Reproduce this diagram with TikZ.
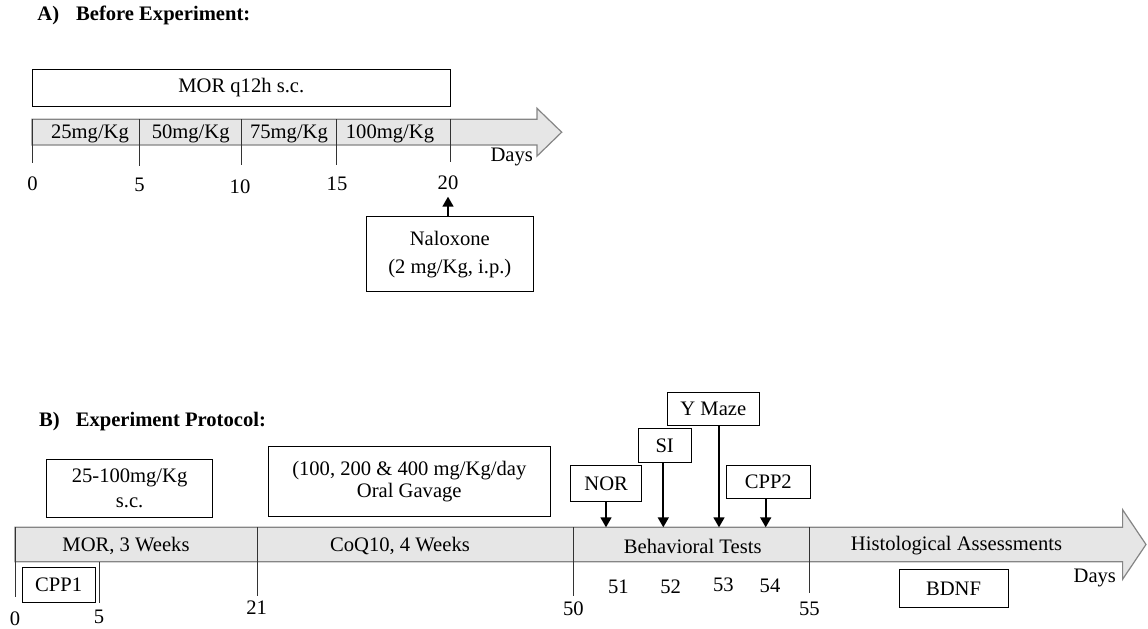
\documentclass[tikz,border=0pt]{standalone}
\usepackage{fontspec}
\setmainfont{Liberation Serif}
\usepackage{tikz}
\usetikzlibrary{arrows.meta}
\definecolor{bandc}{HTML}{E6E6E6}
\definecolor{edgec}{HTML}{858585}
\definecolor{tickc}{HTML}{333333}
\tikzset{
  band/.style={fill=bandc, draw=edgec, line width=0.6pt, line join=miter},
  daytick/.style={draw=tickc, line width=0.45pt},
  txt/.style={inner sep=0pt, font=\fontsize{10.3}{12}\selectfont},
  hdr/.style={inner sep=0pt, anchor=west, font=\fontsize{10.3}{12}\selectfont\bfseries},
  dosebox/.style={txt, draw, line width=0.45pt, align=center},
  testarrow/.style={line width=0.85pt, -{Triangle[length=5pt,width=5.5pt]}},
}

\begin{document}
\begin{tikzpicture}[x=0.5pt,y=-0.5pt]
\useasboundingbox (0,0) rectangle (1148,628);
\node[hdr] (titleA) at (37.000,15.000) {A)\hspace{8.5pt}Before Experiment:};
\node[dosebox, minimum width=209.3pt, minimum height=18.7pt] (mor) at (241.300,88.000) {MOR q12h s.c.};
\filldraw[band] (32.000,119.300) -- (537.000,119.300) -- (537.000,108.300) -- (561.700,132.200) -- (537.000,156.100) -- (537.000,145.000) -- (32.000,145.000) -- cycle;
\draw[daytick] (32.000,119.300) -- (32.000,163.000);
\draw[daytick] (139.600,119.300) -- (139.600,166.000);
\draw[daytick] (241.500,119.300) -- (241.500,165.000);
\draw[daytick] (336.000,119.300) -- (336.000,165.000);
\draw[daytick] (450.000,119.300) -- (450.000,161.700);
\node[txt] (dose25) at (90.000,133.500) {25mg/Kg};
\node[txt] (dose50) at (190.700,133.500) {50mg/Kg};
\node[txt] (dose75) at (289.000,133.500) {75mg/Kg};
\node[txt] (dose100) at (390.000,133.500) {100mg/Kg};
\node[txt] (a0) at (32.600,184.000) {0};
\node[txt] (a5) at (139.600,185.000) {5};
\node[txt] (a10) at (240.000,186.700) {10};
\node[txt] (a15) at (337.000,184.000) {15};
\node[txt] (a20) at (448.000,182.700) {20};
\node[txt] (daysA) at (511.700,156.700) {Days};
\node[dosebox, minimum width=83.2pt, minimum height=37.5pt, font=\fontsize{10.3}{14}\selectfont] (nal) at (449.800,254.200) {Naloxone\\(2 mg/Kg, i.p.)};
\coordinate (nalend) at (448.000,196.700);
\draw[testarrow] (nalend |- nal.north) -- (nalend);
\node[hdr] (titleB) at (38.800,421.700) {B)\hspace{8pt}Experiment Protocol:};
\node[dosebox, minimum width=83.3pt, minimum height=29.2pt, font=\fontsize{10.3}{12.9}\selectfont] (morsc) at (129.600,488.200) {25-100mg/Kg\\s.c.};
\node[dosebox, minimum width=140.7pt, minimum height=35.3pt, font=\fontsize{10.3}{11.2}\selectfont] (coq) at (409.300,481.300) {(100, 200 \& 400 mg/Kg/day\\Oral Gavage};
\node[dosebox, minimum width=35.5pt, minimum height=18.3pt] (nor) at (606.200,483.300) {NOR};
\node[dosebox, minimum width=26.4pt, minimum height=17.0pt] (si) at (664.700,445.300) {SI};
\node[dosebox, minimum width=46.0pt, minimum height=16.7pt] (ymaze) at (713.300,409.000) {Y Maze};
\node[dosebox, minimum width=41.7pt, minimum height=16.7pt] (cpp2) at (768.300,481.700) {CPP2};
\filldraw[band] (15.000,527.300) -- (1122.600,527.300) -- (1122.600,509.700) -- (1146.000,544.500) -- (1122.600,579.300) -- (1122.600,561.700) -- (15.000,561.700) -- cycle;
\coordinate (t51) at (606.000,527.300);
\coordinate (t52) at (663.300,527.300);
\coordinate (t53) at (719.000,527.300);
\coordinate (t54) at (765.700,527.300);
\draw[testarrow] (t51 |- nor.south) -- (t51);
\draw[testarrow] (t52 |- si.south) -- (t52);
\draw[testarrow] (t53 |- ymaze.south) -- (t53);
\draw[testarrow] (t54 |- cpp2.south) -- (t54);
\draw[daytick] (15.000,527.300) -- (15.000,596.700);
\draw[daytick] (99.000,561.700) -- (99.000,602.700);
\draw[daytick] (257.300,527.300) -- (257.300,596.000);
\draw[daytick] (573.300,527.300) -- (573.300,596.000);
\draw[daytick] (809.300,527.300) -- (809.300,593.300);
\node[txt] (phmor) at (126.000,545.500) {MOR, 3 Weeks};
\node[txt] (phcoq) at (400.000,546.000) {CoQ10, 4 Weeks};
\node[txt] (phbeh) at (692.700,546.000) {Behavioral Tests};
\node[txt] (phhis) at (956.500,546.000) {Histological Assessments};
\node[dosebox, minimum width=36.4pt, minimum height=17.7pt] (cpp1) at (58.700,585.000) {CPP1};
\node[dosebox, minimum width=54.5pt, minimum height=19.0pt] (bdnf) at (953.500,588.300) {BDNF};
\node[txt] (b0) at (15.000,618.300) {0};
\node[txt] (b5) at (99.000,617.300) {5};
\node[txt] (b21) at (256.700,607.300) {21};
\node[txt] (b50) at (573.300,608.300) {50};
\node[txt] (b51) at (618.300,586.700) {51};
\node[txt] (b52) at (670.700,586.700) {52};
\node[txt] (b53) at (723.300,585.000) {53};
\node[txt] (b54) at (770.000,585.700) {54};
\node[txt] (b55) at (809.300,609.300) {55};
\node[txt] (daysB) at (1094.800,578.300) {Days};
\end{tikzpicture}
\end{document}
